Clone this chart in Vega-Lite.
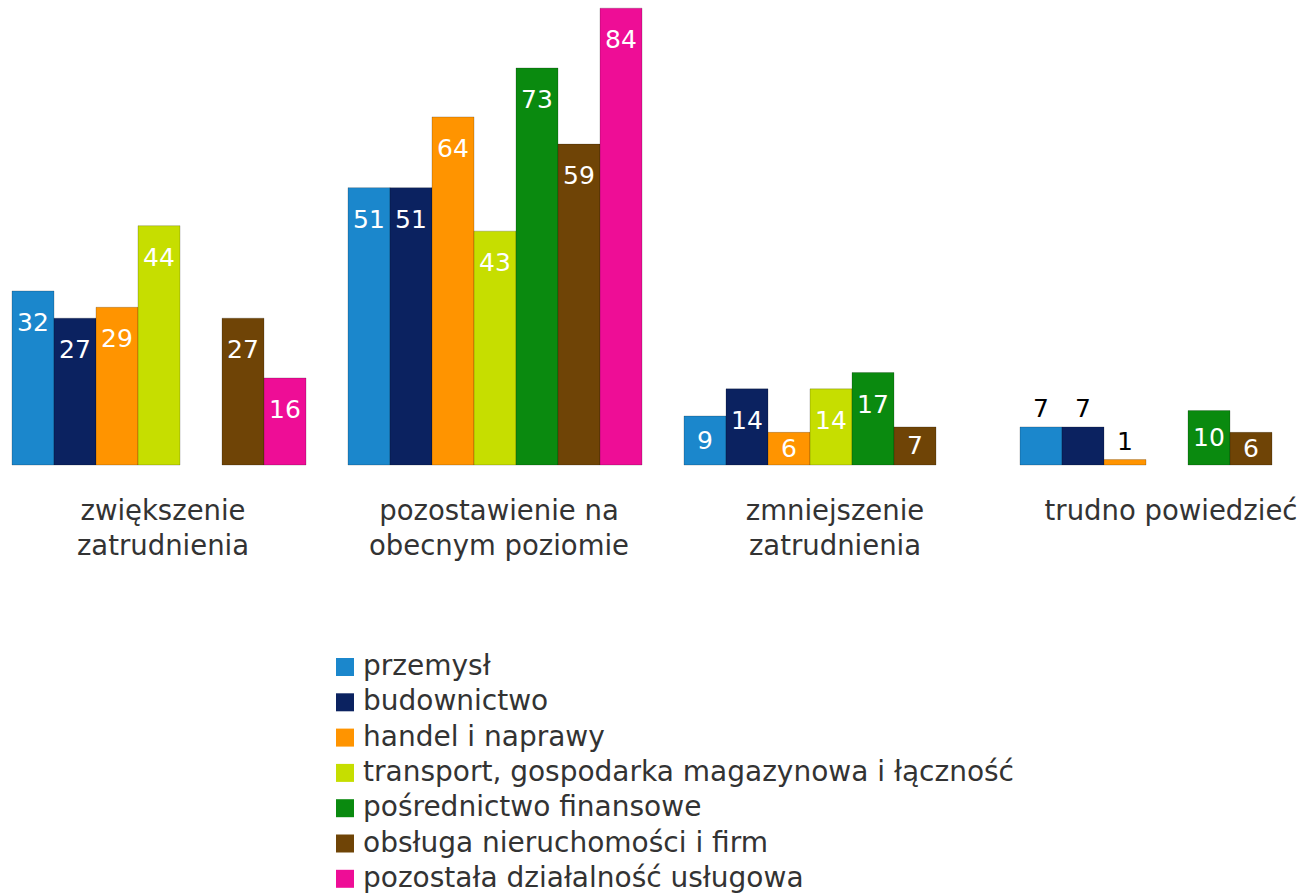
{
  "$schema": "https://vega.github.io/schema/vega-lite/v6.json",
  "width": 1298,
  "height": 465,
  "autosize": {"type": "none"},
  "padding": {"left": 0, "top": 0, "right": 0, "bottom": 428},
  "background": "white",
  "config": {"view": {"stroke": null}, "font": "DejaVu Sans"},
  "data": {"values": [
    {"grupa": "zwiększenie zatrudnienia", "branza": "przemysł", "wartosc": 32},
    {"grupa": "zwiększenie zatrudnienia", "branza": "budownictwo", "wartosc": 27},
    {"grupa": "zwiększenie zatrudnienia", "branza": "handel i naprawy", "wartosc": 29},
    {"grupa": "zwiększenie zatrudnienia", "branza": "transport, gospodarka magazynowa i łączność", "wartosc": 44},
    {"grupa": "zwiększenie zatrudnienia", "branza": "obsługa nieruchomości i firm", "wartosc": 27},
    {"grupa": "zwiększenie zatrudnienia", "branza": "pozostała działalność usługowa", "wartosc": 16},
    {"grupa": "pozostawienie na obecnym poziomie", "branza": "przemysł", "wartosc": 51},
    {"grupa": "pozostawienie na obecnym poziomie", "branza": "budownictwo", "wartosc": 51},
    {"grupa": "pozostawienie na obecnym poziomie", "branza": "handel i naprawy", "wartosc": 64},
    {"grupa": "pozostawienie na obecnym poziomie", "branza": "transport, gospodarka magazynowa i łączność", "wartosc": 43},
    {"grupa": "pozostawienie na obecnym poziomie", "branza": "pośrednictwo finansowe", "wartosc": 73},
    {"grupa": "pozostawienie na obecnym poziomie", "branza": "obsługa nieruchomości i firm", "wartosc": 59},
    {"grupa": "pozostawienie na obecnym poziomie", "branza": "pozostała działalność usługowa", "wartosc": 84},
    {"grupa": "zmniejszenie zatrudnienia", "branza": "przemysł", "wartosc": 9},
    {"grupa": "zmniejszenie zatrudnienia", "branza": "budownictwo", "wartosc": 14},
    {"grupa": "zmniejszenie zatrudnienia", "branza": "handel i naprawy", "wartosc": 6},
    {"grupa": "zmniejszenie zatrudnienia", "branza": "transport, gospodarka magazynowa i łączność", "wartosc": 14},
    {"grupa": "zmniejszenie zatrudnienia", "branza": "pośrednictwo finansowe", "wartosc": 17},
    {"grupa": "zmniejszenie zatrudnienia", "branza": "obsługa nieruchomości i firm", "wartosc": 7},
    {"grupa": "trudno powiedzieć", "branza": "przemysł", "wartosc": 7},
    {"grupa": "trudno powiedzieć", "branza": "budownictwo", "wartosc": 7},
    {"grupa": "trudno powiedzieć", "branza": "handel i naprawy", "wartosc": 1},
    {"grupa": "trudno powiedzieć", "branza": "pośrednictwo finansowe", "wartosc": 10},
    {"grupa": "trudno powiedzieć", "branza": "obsługa nieruchomości i firm", "wartosc": 6}
  ]},
  "encoding": {
    "x": {
      "field": "grupa", "type": "nominal",
      "sort": ["zwiększenie zatrudnienia", "pozostawienie na obecnym poziomie", "zmniejszenie zatrudnienia", "trudno powiedzieć"],
      "scale": {"range": [12, 1314], "paddingInner": 0.125, "paddingOuter": 0},
      "axis": {
        "title": null, "domain": false, "ticks": false, "grid": false,
        "labelAngle": 0, "labelFontSize": 27.5, "labelColor": "#333333",
        "labelPadding": 32, "labelLineHeight": 35, "labelLimit": 0, "labelOffset": 4,
        "labelOverlap": false, "labelBound": false, "labelFlush": false,
        "labelExpr": "datum.label == 'trudno powiedzieć' ? datum.label : (datum.label == 'pozostawienie na obecnym poziomie' ? ['pozostawienie na', 'obecnym poziomie'] : split(datum.label, ' '))"
      }
    },
    "xOffset": {
      "field": "branza", "type": "nominal",
      "sort": ["przemysł", "budownictwo", "handel i naprawy", "transport, gospodarka magazynowa i łączność", "pośrednictwo finansowe", "obsługa nieruchomości i firm", "pozostała działalność usługowa"],
      "scale": {"paddingInner": 0, "paddingOuter": 0}
    }
  },
  "layer": [
    {
      "mark": {"type": "bar", "stroke": "#00000033", "strokeWidth": 1},
      "encoding": {
        "y": {"field": "wartosc", "type": "quantitative", "scale": {"domain": [0, 85.5], "nice": false, "zero": true}, "axis": null},
        "color": {
          "field": "branza", "type": "nominal",
          "sort": ["przemysł", "budownictwo", "handel i naprawy", "transport, gospodarka magazynowa i łączność", "pośrednictwo finansowe", "obsługa nieruchomości i firm", "pozostała działalność usługowa"],
          "scale": {
            "domain": ["przemysł", "budownictwo", "handel i naprawy", "transport, gospodarka magazynowa i łączność", "pośrednictwo finansowe", "obsługa nieruchomości i firm", "pozostała działalność usługowa"],
            "range": ["#1B87CC", "#0B2260", "#FF9400", "#C6DE00", "#0A8A0F", "#6F4406", "#EE0D96"]
          },
          "legend": {
            "title": null, "orient": "none", "legendX": 331, "legendY": 653, "padding": 0,
            "symbolType": "square", "symbolSize": 324, "symbolStrokeWidth": 0,
            "labelFontSize": 28, "labelColor": "#333333", "labelOffset": 4,
            "rowPadding": 7.3, "labelLimit": 0
          }
        }
      }
    },
    {
      "transform": [{"filter": "datum.wartosc >= 12"}],
      "mark": {"type": "text", "color": "white", "fontSize": 25, "baseline": "alphabetic", "dy": 40},
      "encoding": {
        "y": {"field": "wartosc", "type": "quantitative", "scale": {"domain": [0, 85.5], "nice": false, "zero": true}, "axis": null},
        "text": {"field": "wartosc", "type": "quantitative"}
      }
    },
    {
      "transform": [{"filter": "datum.wartosc < 12 && !(datum.grupa == 'trudno powiedzieć' && indexof(['przemysł', 'budownictwo', 'handel i naprawy'], datum.branza) >= 0)"}],
      "mark": {"type": "text", "color": "white", "fontSize": 25, "baseline": "middle", "dy": 0},
      "encoding": {
        "y": {"field": "wartosc", "type": "quantitative", "scale": {"domain": [0, 171], "nice": false, "zero": true}, "axis": null},
        "text": {"field": "wartosc", "type": "quantitative"}
      }
    },
    {
      "transform": [{"filter": "datum.grupa == 'trudno powiedzieć' && indexof(['przemysł', 'budownictwo', 'handel i naprawy'], datum.branza) >= 0"}],
      "mark": {"type": "text", "color": "black", "fontSize": 25, "baseline": "alphabetic", "dy": -10},
      "encoding": {
        "y": {"field": "wartosc", "type": "quantitative", "scale": {"domain": [0, 85.5], "nice": false, "zero": true}, "axis": null},
        "text": {"field": "wartosc", "type": "quantitative"}
      }
    }
  ],
  "resolve": {"scale": {"y": "independent"}}
}
